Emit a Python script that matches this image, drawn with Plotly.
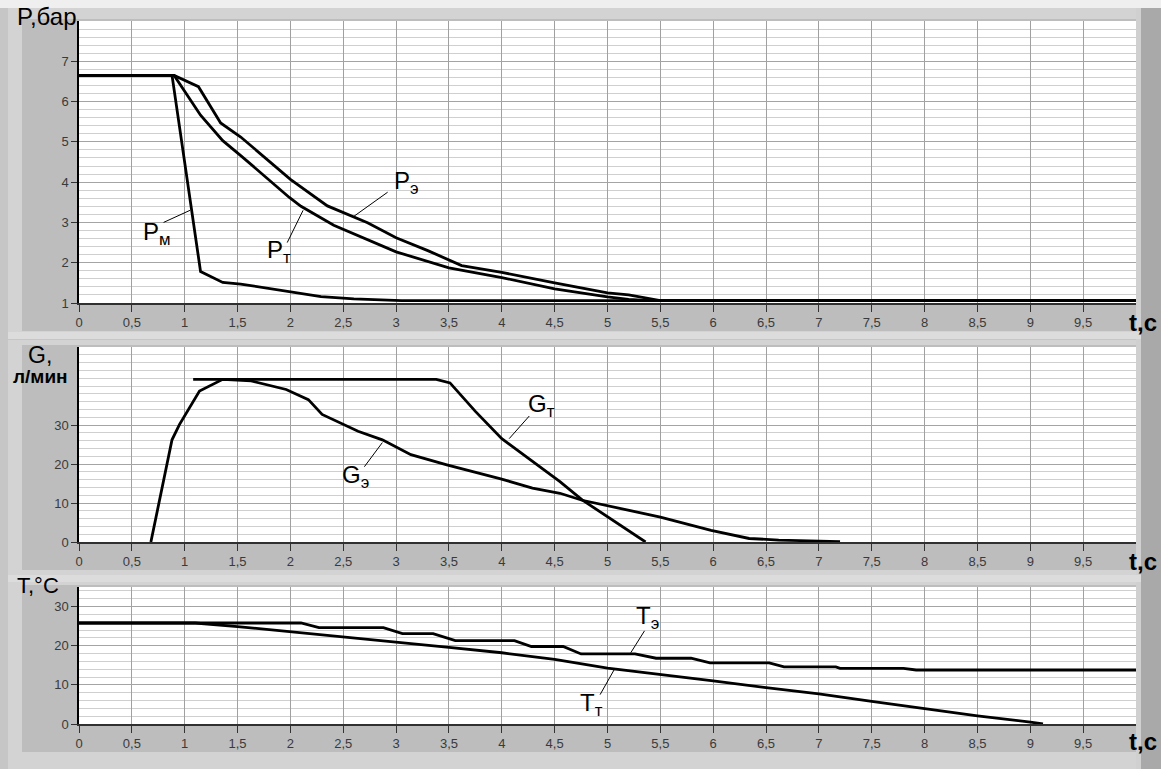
import plotly.graph_objects as go

# ---------------- data ----------------
# Panel 1: pressure, bar
t_pm = [0, 0.88, 1.15, 1.36, 1.53, 2.0, 2.29, 2.6, 3.05, 10]
p_pm = [6.65, 6.65, 1.78, 1.51, 1.47, 1.28, 1.16, 1.1, 1.06, 1.06]

t_pe = [0, 0.9, 1.13, 1.34, 1.53, 2.0, 2.35, 2.73, 3.0, 3.3, 3.62, 4.0, 4.5, 5.0, 5.2, 5.36, 5.5, 10]
p_pe = [6.65, 6.65, 6.37, 5.47, 5.12, 4.07, 3.41, 2.99, 2.62, 2.3, 1.93, 1.76, 1.5, 1.25, 1.2, 1.13, 1.06, 1.06]

t_pt = [0, 0.9, 1.15, 1.36, 1.53, 1.99, 2.1, 2.41, 3.0, 3.5, 4.0, 4.5, 5.0, 5.2, 5.4, 10]
p_pt = [6.65, 6.65, 5.66, 5.03, 4.66, 3.62, 3.4, 2.93, 2.27, 1.87, 1.63, 1.35, 1.15, 1.09, 1.06, 1.06]

# Panel 2: flow, l/min
t_gt = [1.08, 3.38, 3.51, 3.75, 4.0, 4.55, 4.76, 5.36]
g_gt = [41.7, 41.7, 40.8, 33.5, 26.5, 15.5, 10.8, 0]

t_ge = [0.68, 0.88, 0.95, 1.14, 1.36, 1.63, 1.96, 2.17, 2.3, 2.64, 2.87, 3.14, 3.48, 3.99,
        4.29, 4.55, 4.76, 5.5, 5.98, 6.34, 6.62, 7.0, 7.2]
g_ge = [0, 26.2, 30.1, 38.7, 41.7, 41.3, 39.1, 36.5, 32.7, 28.4, 26.2, 22.4, 19.8, 16.2,
        13.8, 12.5, 10.7, 6.4, 3.0, 0.9, 0.5, 0.3, 0.1]

# Panel 3: temperature, °C
t_tt = [0, 1.1, 1.5, 2.0, 2.5, 3.0, 3.5, 4.0, 4.5, 5.0, 5.5, 6.0, 6.5, 7.0, 7.5, 8.0, 8.5, 9.0, 9.12]
v_tt = [25.8, 25.8, 24.9, 23.6, 22.3, 21.0, 19.6, 18.2, 16.5, 14.3, 12.7, 11.0, 9.3, 7.7, 5.8, 3.9, 2.1, 0.5, 0]

t_te = [0, 2.1, 2.27, 2.88, 3.06, 3.35, 3.56, 4.12, 4.28, 4.58, 4.75, 5.26, 5.46, 5.79, 5.97,
        6.53, 6.67, 7.16, 7.2, 7.8, 7.92, 10]
v_te = [25.8, 25.8, 24.6, 24.6, 23.1, 23.1, 21.3, 21.3, 19.8, 19.8, 17.9, 17.9, 16.8, 16.8, 15.6,
        15.6, 14.6, 14.6, 14.2, 14.2, 13.8, 13.8]

x_ticks = [i * 0.5 for i in range(20)]
x_ticktext = [("%g" % v).replace(".", ",") for v in x_ticks]
p_ticks = [1, 2, 3, 4, 5, 6, 7]
g_ticks = [0, 10, 20, 30]
t_ticks = [0, 10, 20, 30]

# ---------------- layout geometry ----------------
W, H = 1161, 769
def py(px):
    return 1 - px / H
def pxx(px):
    return px / W

PL, PR = 79, 1136
xdom = [pxx(PL), pxx(PR)]
panels = [
    dict(top=21, bottom=303),
    dict(top=347, bottom=542),
    dict(top=587, bottom=724),
]

LINE = dict(color="black", width=2.8)
fig = go.Figure()
fig.add_trace(go.Scatter(x=t_pm, y=p_pm, mode="lines", line=LINE, xaxis="x", yaxis="y"))
fig.add_trace(go.Scatter(x=t_pe, y=p_pe, mode="lines", line=LINE, xaxis="x", yaxis="y"))
fig.add_trace(go.Scatter(x=t_pt, y=p_pt, mode="lines", line=LINE, xaxis="x", yaxis="y"))
fig.add_trace(go.Scatter(x=t_gt, y=g_gt, mode="lines", line=LINE, xaxis="x2", yaxis="y2"))
fig.add_trace(go.Scatter(x=t_ge, y=g_ge, mode="lines", line=LINE, xaxis="x2", yaxis="y2"))
fig.add_trace(go.Scatter(x=t_tt, y=v_tt, mode="lines", line=LINE, xaxis="x3", yaxis="y3"))
fig.add_trace(go.Scatter(x=t_te, y=v_te, mode="lines", line=LINE, xaxis="x3", yaxis="y3"))

TICKFONT = dict(family="Liberation Sans, Arial, sans-serif", size=13, color="#3a3a3a")

def xaxis(anchor):
    return dict(
        domain=xdom, range=[0, 10], anchor=anchor,
        tickmode="array", tickvals=x_ticks, ticktext=x_ticktext,
        ticks="outside", ticklen=7, tickwidth=1, tickcolor="#333333",
        tickfont=TICKFONT, showgrid=True, gridcolor="#a0a0a0", gridwidth=1,
        showline=True, linecolor="#303030", linewidth=1.5, zeroline=False,
        fixedrange=True, automargin=False,
    )

def yaxis(anchor, rng, ticks, minor, dom):
    return dict(
        domain=dom, range=rng, anchor=anchor,
        tickmode="array", tickvals=ticks,
        ticks="outside", ticklen=6, tickwidth=1, tickcolor="#333333",
        tickfont=TICKFONT, showgrid=True, gridcolor="#a4a4a4", gridwidth=1,
        minor=dict(tickmode="linear", dtick=minor, showgrid=True, gridcolor="#cfcfcf",
                   gridwidth=1, ticks=""),
        showline=True, linecolor="black", linewidth=1.5, zeroline=False,
        fixedrange=True, automargin=False,
    )

doms = [[py(p["bottom"]), py(p["top"])] for p in panels]

fig.update_layout(
    width=W, height=H, autosize=False,
    margin=dict(l=0, r=0, t=0, b=0),
    paper_bgcolor="#c6c6c6", plot_bgcolor="white",
    showlegend=False,
    xaxis=xaxis("y"), xaxis2=xaxis("y2"), xaxis3=xaxis("y3"),
    yaxis=yaxis("x", [1, 8], p_ticks, 0.2, doms[0]),
    yaxis2=yaxis("x2", [0, 50], g_ticks, 2, doms[1]),
    yaxis3=yaxis("x3", [0, 35], t_ticks, 2, doms[2]),
)

# ---------------- frame decoration ----------------
shapes = []
def rect(x0, y0, x1, y1, color, layer="below"):
    shapes.append(dict(type="rect", xref="paper", yref="paper",
                       x0=pxx(x0), x1=pxx(x1), y0=py(y1), y1=py(y0),
                       fillcolor=color, line=dict(width=0), layer=layer))

rect(0, 0, W, 8, "#efefef")
rect(1141, 8, W, H, "#a9a9a9")
rect(1136, 8, 1141, H, "#d0d0d0")
frames = [(8, 334), (340, 577), (582, H)]
for (ft, fb), p in zip(frames, panels):
    rect(8, ft, 1136, fb, "#d3d3d3")
    rect(22, p["top"] - 2, 1136, p["bottom"] + 28, "#bdbdbd")
    rect(PL, p["top"], PR, p["bottom"], "white")
    if fb < H:
        rect(8, fb - 2, 1141, fb + 5, "#dcdcdc")

# leader lines (data coords)
def leader(xr, yr, x0, y0, x1, y1):
    shapes.append(dict(type="line", xref=xr, yref=yr, x0=x0, y0=y0, x1=x1, y1=y1,
                       line=dict(color="black", width=1), layer="above"))

leader("x", "y", 0.80, 3.0, 1.05, 3.3)
leader("x", "y", 1.97, 2.5, 2.12, 3.3)
leader("x", "y", 2.92, 3.75, 2.60, 3.15)
leader("x2", "y2", 4.26, 32.3, 4.07, 26.5)
leader("x2", "y2", 2.70, 19.3, 2.87, 25.5)
leader("x3", "y3", 5.35, 23.8, 5.22, 18.2)
leader("x3", "y3", 4.93, 7.5, 5.07, 14.2)
fig.update_layout(shapes=shapes)

# ---------------- texts ----------------
FAM = "Liberation Sans, Arial, sans-serif"
ann = []
def label(xr, yr, x, y, text, size=24):
    ann.append(dict(xref=xr, yref=yr, x=x, y=y, text=text, showarrow=False,
                    font=dict(family=FAM, size=size, color="black")))

label("x", "y", 0.74, 2.72, "P<sub>м</sub>")
label("x", "y", 1.89, 2.27, "P<sub>т</sub>")
label("x", "y", 3.10, 4.0, "P<sub>э</sub>")
label("x2", "y2", 4.38, 34.9, "G<sub>т</sub>")
label("x2", "y2", 2.62, 16.9, "G<sub>э</sub>")
label("x3", "y3", 5.38, 27.3, "T<sub>э</sub>")
label("x3", "y3", 4.85, 5.0, "T<sub>т</sub>")

def plabel(x, y, text, size=22, bold=False):
    ann.append(dict(xref="paper", yref="paper", x=pxx(x), y=py(y), text=text,
                    showarrow=False, xanchor="center", yanchor="middle",
                    font=dict(family=FAM, size=size, color="black",
                              weight="bold" if bold else "normal")))

plabel(46, 17, "P,бар", 24)
plabel(40, 355, "G,", 23)
plabel(40, 376, "л/мин", 19, bold=True)
plabel(38, 585, "T,°C", 22)
for yy in (322, 561, 741):
    plabel(1143, yy, "t,c", 24, bold=True)

fig.update_layout(annotations=ann)
fig.write_html("out.html", config={"displayModeBar": False},
               post_script="document.body.style.margin='0';document.body.style.padding='0';document.body.style.overflow='hidden';")
